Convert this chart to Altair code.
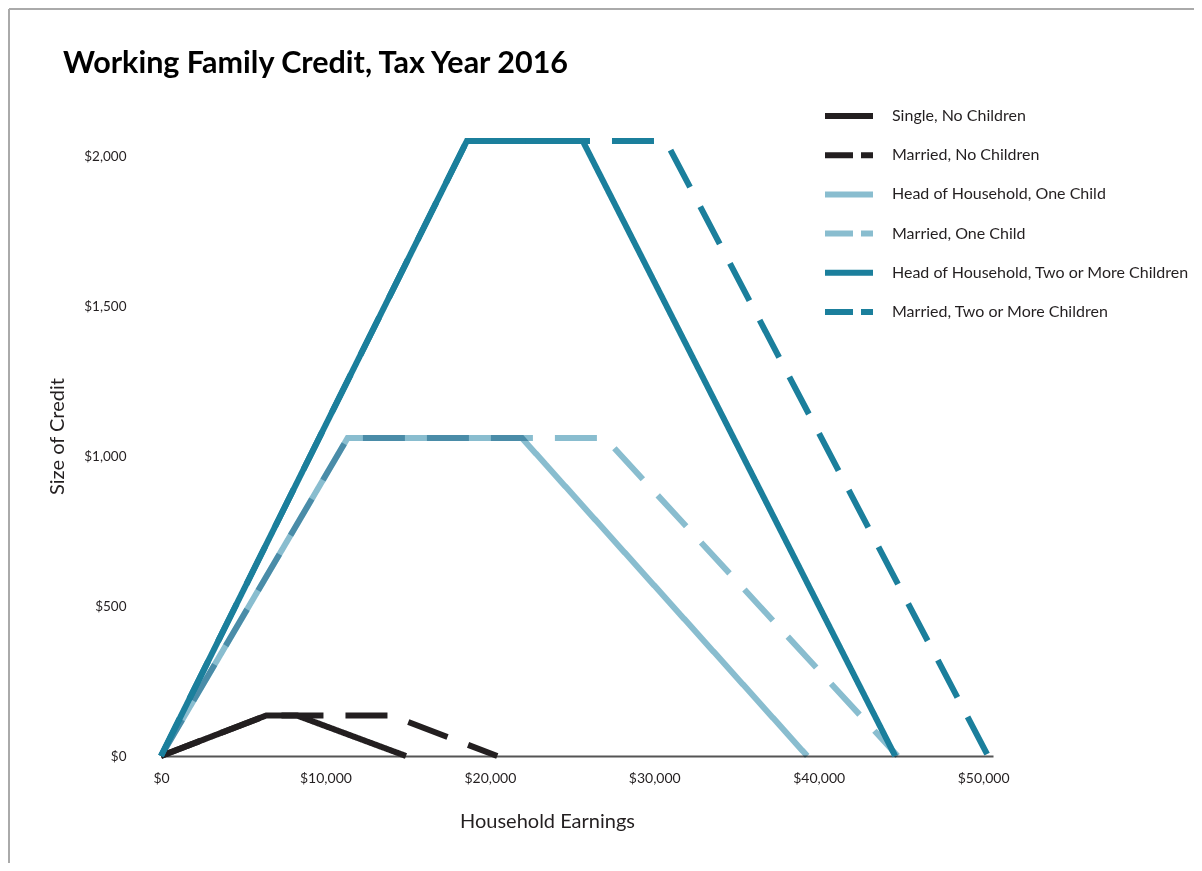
import altair as alt
import pandas as pd

# ---- data ----
series_names = [
    "Single, No Children",
    "Married, No Children",
    "Head of Household, One Child",
    "Married, One Child",
    "Head of Household, Two or More Children",
    "Married, Two or More Children",
]
single_none_x = [0, 6400, 8270, 14900]
single_none_y = [0, 135, 135, 0]
married_none_x = [0, 6400, 14000, 20450]
married_none_y = [0, 135, 135, 0]
hoh_one_x = [0, 11350, 21950, 39300]
hoh_one_y = [0, 1060, 1060, 0]
married_one_x = [0, 11350, 27000, 44800]
married_one_y = [0, 1060, 1060, 0]
hoh_two_x = [0, 18600, 25650, 44650]
hoh_two_y = [0, 2050, 2050, 0]
married_two_x = [0, 18600, 30700, 50300]
married_two_y = [0, 2050, 2050, 0]

x_ticks = [0, 10000, 20000, 30000, 40000, 50000]
y_ticks = [0, 500, 1000, 1500, 2000]

colors = ["#231f20", "#231f20", "#89bdcf", "#89bdcf", "#1b7f9c", "#1b7f9c"]
dashes = [[1, 0], [42, 22], [1, 0], [42, 22], [1, 0], [42, 22]]
legend_dashes = [[1, 0], [28, 8], [1, 0], [28, 8], [1, 0], [28, 8]]

xs = [single_none_x, married_none_x, hoh_one_x, married_one_x, hoh_two_x, married_two_x]
ys = [single_none_y, married_none_y, hoh_one_y, married_one_y, hoh_two_y, married_two_y]

rows = []
for i, (name, sx, sy) in enumerate(zip(series_names, xs, ys)):
    for j, (a, b) in enumerate(zip(sx, sy)):
        rows.append({"series": name, "earn": a, "credit": b, "order": j})
df = pd.DataFrame(rows)

FONT = "Lato"
INK = "#231f20"

x_enc = alt.X(
    "earn:Q",
    scale=alt.Scale(domain=[0, 50600], nice=False, zero=True),
    axis=alt.Axis(
        values=x_ticks, format="$,d", title="Household Earnings",
        grid=False, ticks=False, labelPadding=15, labelFontSize=14,
        labelFlush=False,
        labelColor=INK, labelFont=FONT, domainColor="#555555", domainWidth=2,
        titleFont=FONT, titleFontSize=20, titleFontWeight="normal", titleColor=INK,
        titleX=386, titleY=65, titleBaseline="middle", titleAlign="center",
    ),
)
y_enc = alt.Y(
    "credit:Q",
    scale=alt.Scale(domain=[0, 2100], nice=False),
    axis=alt.Axis(
        values=y_ticks, format="$,d", title="Size of Credit",
        grid=False, ticks=False, domain=False, labelPadding=35,
        labelFontSize=13.5, labelColor=INK, labelFont=FONT, labelFlush=False,
        titleFont=FONT, titleFontSize=20, titleFontWeight="normal", titleColor=INK,
        titleX=-104, titleY=310, titleBaseline="middle", titleAlign="center",
        titleAngle=270,
    ),
)

line_color = alt.Color(
    "series:N", scale=alt.Scale(domain=series_names, range=colors), legend=None
)
line_dash = alt.StrokeDash(
    "series:N", scale=alt.Scale(domain=series_names, range=dashes), legend=None
)

base = alt.Chart(df).encode(
    x=x_enc, y=y_enc, color=line_color, strokeDash=line_dash,
    order=alt.Order("order:Q"),
)

light = base.transform_filter(
    alt.FieldOneOfPredicate(field="series", oneOf=series_names[2:4])
).mark_line(strokeWidth=6, strokeCap="butt", strokeJoin="miter", blend="multiply")

dark = base.transform_filter(
    alt.FieldOneOfPredicate(field="series", oneOf=[series_names[k] for k in (4, 5, 0, 1)])
).mark_line(strokeWidth=6, strokeCap="butt", strokeJoin="miter")

legend_kw = dict(
    title=None, orient="none", legendX=661, legendY=-28.5,
    symbolType="stroke", symbolSize=2304, symbolStrokeWidth=6,
    clipHeight=37, rowPadding=2.2, labelOffset=16, padding=0,
    labelFont=FONT, labelFontSize=16, labelColor=INK, labelLimit=400,
    symbolOpacity=1,
)

# legend-only layer (no marks drawn; scales have explicit domains)
legend_layer = (
    alt.Chart(df)
    .transform_calculate(key="datum.series")
    .transform_filter("datum.earn < 0")
    .mark_line(strokeWidth=6)
    .encode(
        x="earn:Q",
        y="credit:Q",
        color=alt.Color(
            "key:N",
            scale=alt.Scale(domain=series_names, range=colors),
            sort=series_names,
            legend=alt.Legend(**legend_kw),
        ),
        strokeDash=alt.StrokeDash(
            "key:N",
            scale=alt.Scale(domain=series_names, range=legend_dashes),
            sort=series_names,
            legend=alt.Legend(**legend_kw),
        ),
    )
)

frame_df = pd.DataFrame({"k": [0]})
top_border = alt.Chart(frame_df).mark_rule(color="#aaaaaa", strokeWidth=2).encode(
    x=alt.value(-152), x2=alt.value(1040), y=alt.value(-117)
)
left_border = alt.Chart(frame_df).mark_rule(color="#aaaaaa", strokeWidth=2).encode(
    x=alt.value(-152), y=alt.value(-117), y2=alt.value(740)
)

chart = (
    alt.layer(top_border, left_border, light, dark, legend_layer)
    .resolve_scale(color="independent", strokeDash="independent")
    .properties(
        width=832,
        height=630,
        background="white",
        autosize=alt.AutoSizeParams(type="none"),
        padding={"left": 153, "top": 118, "right": 201, "bottom": 107},
        title=alt.Title(
            "Working Family Credit, Tax Year 2016",
            anchor="start", frame="group", dx=-98, dy=95, font=FONT, fontSize=30.5,
            fontWeight="bold", color="#000000", baseline="alphabetic", offset=0,
        ),
    )
    .configure_view(strokeWidth=0, stroke="transparent")
)

chart.save("out.html", embed_options={"renderer": "svg", "actions": False})
